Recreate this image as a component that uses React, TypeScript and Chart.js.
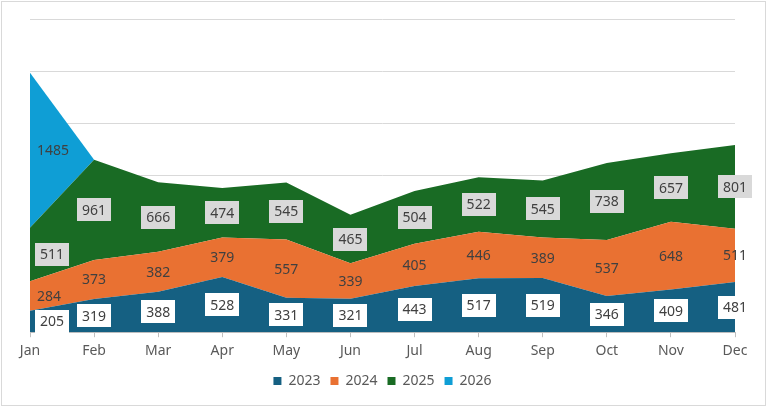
import React, { useEffect, useRef } from "react";
import { Chart, registerables } from "chart.js";

Chart.register(...registerables);

const months = ["Jan", "Feb", "Mar", "Apr", "May", "Jun", "Jul", "Aug", "Sep", "Oct", "Nov", "Dec"];
const s2023 = [205, 319, 388, 528, 331, 321, 443, 517, 519, 346, 409, 481];
const s2024 = [284, 373, 382, 379, 557, 339, 405, 446, 389, 537, 648, 511];
const s2025 = [511, 961, 666, 474, 545, 465, 504, 522, 545, 738, 657, 801];
const s2026: (number | null)[] = [1485, 0, null, null, null, null, null, null, null, null, null, null];
const seriesNames = ["2023", "2024", "2025", "2026"];
const seriesColors = ["#156082", "#E97132", "#196B24", "#0F9ED5"];
const labelBoxes: (string | null)[] = ["#FFFFFF", null, "#D9D9D9", null];

const FONT = "'Noto Sans', sans-serif";

const labelPlugin = {
  id: "bandLabels",
  afterDatasetsDraw(chart: any) {
    const ctx = chart.ctx;
    const yScale = chart.scales.y;
    const area = chart.chartArea;
    const datasets = chart.data.datasets;
    ctx.save();
    ctx.font = `14px ${FONT}`;
    ctx.textBaseline = "middle";
    ctx.textAlign = "center";
    const n = chart.data.labels.length;
    for (let i = 0; i < n; i++) {
      let cum = 0;
      for (let d = 0; d < datasets.length; d++) {
        const v = datasets[d].data[i];
        if (v == null) continue;
        const meta = chart.getDatasetMeta(d);
        const x0 = meta.data[i].x;
        const yBot = yScale.getPixelForValue(cum);
        const yTop = yScale.getPixelForValue(cum + v);
        cum += v;
        if (!v) continue;
        const text = String(v);
        const tw = ctx.measureText(text).width;
        const box = labelBoxes[d];
        const bw = tw + 10;
        const bh = 23;
        let x = x0;
        const w = box ? bw : tw;
        const minLeft = area.left + (box ? 5 : 7);
        if (x - w / 2 < minLeft) x = minLeft + w / 2;
        const y = (yBot + yTop) / 2;
        if (box) {
          ctx.fillStyle = box;
          ctx.fillRect(Math.round(x - bw / 2), Math.round(y - bh / 2), Math.round(bw), bh);
        }
        ctx.fillStyle = "#404040";
        ctx.fillText(text, x, y + 1);
      }
    }
    ctx.restore();
  },
};

const borderPlugin = {
  id: "outerBorder",
  beforeDraw(chart: any) {
    const ctx = chart.ctx;
    ctx.save();
    ctx.fillStyle = "#FFFFFF";
    ctx.fillRect(0, 0, chart.width, chart.height);
    ctx.strokeStyle = "#D9D9D9";
    ctx.lineWidth = 1;
    ctx.strokeRect(1.5, 1.5, chart.width - 4, chart.height - 4);
    ctx.restore();
  },
};

export default function App() {
  const ref = useRef<HTMLCanvasElement | null>(null);
  useEffect(() => {
    document.body.style.margin = "0";
    const values = [s2023, s2024, s2025, s2026];
    const chart = new Chart(ref.current as HTMLCanvasElement, {
      type: "line",
      data: {
        labels: months,
        datasets: values.map((vals, k) => ({
          label: seriesNames[k],
          data: vals,
          backgroundColor: seriesColors[k],
          borderColor: seriesColors[k],
          borderWidth: 0,
          pointRadius: 0,
          pointHoverRadius: 0,
          tension: 0,
          fill: k === 0 ? "origin" : "-1",
        })),
      },
      options: {
        responsive: false,
        animation: false,
        devicePixelRatio: 1,
        layout: { padding: { left: 30, right: 33, top: 19, bottom: 10 } },
        plugins: {
          legend: {
            position: "bottom",
            labels: {
              boxWidth: 8,
              boxHeight: 8,
              padding: 10,
              color: "#595959",
              font: { size: 14, family: FONT },
            },
          },
          tooltip: { enabled: false },
        },
        scales: {
          x: {
            offset: false,
            grid: { drawOnChartArea: false, drawTicks: true, tickLength: 5, color: "#BFBFBF" },
            border: { display: true, color: "#BFBFBF" },
            ticks: { color: "#595959", font: { size: 14, family: FONT }, padding: 5, maxRotation: 0 },
          },
          y: {
            stacked: true,
            min: 0,
            max: 3000,
            ticks: { display: false, stepSize: 500 },
            grid: { color: "#D9D9D9", drawTicks: false },
            border: { display: false },
            afterFit: (s: any) => {
              s.width = 0;
            },
          },
        },
      },
      plugins: [borderPlugin, labelPlugin],
    } as any);
    return () => chart.destroy();
  }, []);
  return (
    <div style={{ width: 768, height: 408 }}>
      <canvas ref={ref} width={768} height={408} />
    </div>
  );
}
